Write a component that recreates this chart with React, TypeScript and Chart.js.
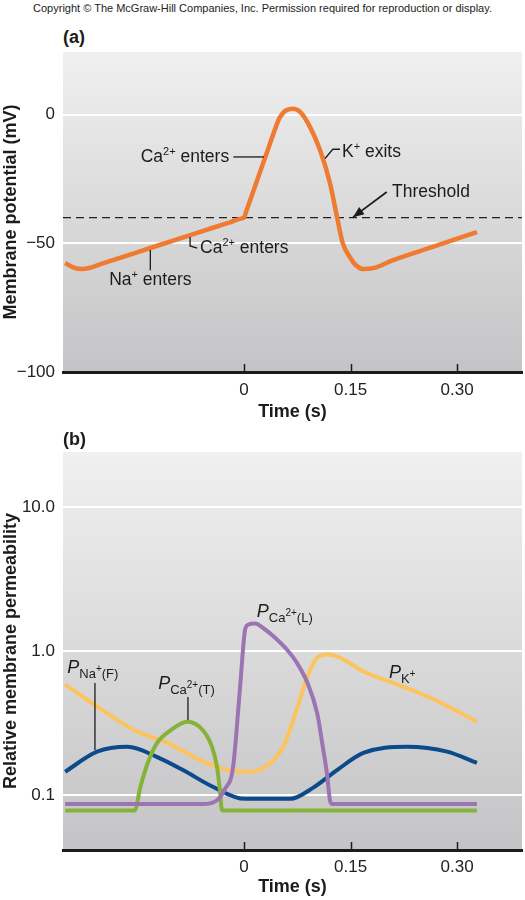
import React, { useEffect, useRef } from "react";
import { Chart, registerables } from "chart.js";

Chart.register(...registerables);

const FONT = '"Liberation Sans", Arial, Helvetica, sans-serif';
const INK = "#1c1c1c";

// ---------------- shared time axis ----------------
const timeMin = -0.255;
const timeMax = 0.3915;
const timeTickValues = [0, 0.15, 0.3];
const timeTickLabels = ["0", "0.15", "0.30"];

// ---------------- panel (a): membrane potential ----------------
const vmTime = [-0.252, -0.24, -0.228, -0.216, -0.2, -0.132, -0.066, -0.02, -0.003, 0, 0.003, 0.015, 0.03, 0.045, 0.05, 0.058, 0.068, 0.079, 0.093, 0.107, 0.121, 0.131, 0.139, 0.149, 0.158, 0.168, 0.185, 0.21, 0.27, 0.328];
const vmValue = [-57.6, -59.4, -60, -59.4, -57.9, -51.8, -45.9, -41.8, -40.27, -40, -37.6, -28.2, -16.4, -4.6, -1.2, 1.5, 2.3, 1.1, -4.8, -13.7, -26.5, -39.8, -49.9, -55.3, -58.6, -60, -59.4, -56.5, -51, -45.6];
const thresholdValue = -40;
const vmMin = -100;
const vmMax = 24.4;
const vmTickValues = [-100, -50, 0];
const vmTickLabels = ["\u2212100", "\u221250", "0"];

// ---------------- panel (b): relative permeability ----------------
const kTime = [-0.252, -0.203, -0.156, -0.108, -0.062, -0.03, 0.008, 0.027, 0.055, 0.074, 0.089, 0.103, 0.117, 0.135, 0.168, 0.206, 0.262, 0.328];
const kValue = [0.585, 0.4, 0.284, 0.23, 0.175, 0.152, 0.145, 0.154, 0.216, 0.39, 0.66, 0.9, 0.946, 0.9, 0.72, 0.61, 0.474, 0.323];

const naTime = [-0.252, -0.207, -0.164, -0.123, -0.086, -0.044, 0.001, 0.065, 0.097, 0.131, 0.168, 0.229, 0.286, 0.328];
const naValue = [0.145, 0.2, 0.216, 0.184, 0.149, 0.114, 0.094, 0.094, 0.112, 0.149, 0.196, 0.216, 0.2, 0.167];

const caTTime = [-0.252, -0.154, -0.146, -0.135, -0.1225, -0.104, -0.08, -0.058, -0.045, -0.038, -0.034, -0.031, 0.328];
const caTValue = [0.078, 0.078, 0.114, 0.17, 0.23, 0.28, 0.323, 0.282, 0.215, 0.156, 0.108, 0.078, 0.078];

const caLTime = [-0.252, -0.058, -0.038, -0.027, -0.0155, -0.0056, 0.0014, 0.0056, 0.0155, 0.0268, 0.041, 0.0606, 0.0746, 0.09, 0.103, 0.111, 0.117, 0.121, 0.124, 0.328];
const caLValue = [0.0866, 0.0866, 0.092, 0.11, 0.156, 0.56, 1.4, 1.52, 1.55, 1.445, 1.27, 1.02, 0.826, 0.59, 0.37, 0.215, 0.138, 0.092, 0.0866, 0.0866];

const permMin = 0.0415;
const permMax = 24.1;
const permTickValues = [0.1, 1, 10];
const permTickLabels = ["0.1", "1.0", "10.0"];

// ---------------- colours ----------------
const ORANGE = "#ee7b30";
const YELLOW = "#fdc35d";
const BLUE = "#0b4a8b";
const GREEN = "#86b23a";
const PURPLE = "#9c74b4";

// ---------------- rich text helpers ----------------
type Seg = { s: string; size: number; dy: number; italic?: boolean };
const txt = (s: string): Seg => ({ s, size: 17.5, dy: 0 });
const sup = (s: string): Seg => ({ s, size: 11, dy: -7 });
const P: Seg = { s: "P", size: 18, dy: 0, italic: true };
const sub = (s: string): Seg => ({ s, size: 13, dy: 5 });
const subSup = (s: string): Seg => ({ s, size: 10, dy: -1 });

const segFont = (g: Seg) => `${g.italic ? "italic " : ""}${g.size}px ${FONT}`;

function drawRich(ctx: CanvasRenderingContext2D, x: number, y: number, segs: Seg[], align: string) {
  let w = 0;
  segs.forEach((g) => {
    ctx.font = segFont(g);
    w += ctx.measureText(g.s).width;
  });
  let cx = align === "left" ? x : align === "right" ? x - w : x - w / 2;
  ctx.textAlign = "left";
  ctx.textBaseline = "alphabetic";
  segs.forEach((g) => {
    ctx.font = segFont(g);
    ctx.fillText(g.s, cx, y + g.dy);
    cx += ctx.measureText(g.s).width;
  });
}

type Label = { segs: Seg[]; x: number; y: number; align: string };
type Leader = { pts: number[][]; arrow?: boolean; width?: number };

function makeAnnotations(id: string, labels: Label[], leaders: Leader[]) {
  return {
    id,
    afterDatasetsDraw(chart: any) {
      const { ctx, scales } = chart;
      const xs = scales.x;
      const ys = scales.y;
      ctx.save();
      ctx.strokeStyle = INK;
      ctx.fillStyle = INK;
      leaders.forEach((l) => {
        const p = l.pts.map(([t, v]) => [xs.getPixelForValue(t), ys.getPixelForValue(v)]);
        ctx.lineWidth = l.width || 1.3;
        ctx.beginPath();
        p.forEach(([px, py], i) => (i ? ctx.lineTo(px, py) : ctx.moveTo(px, py)));
        ctx.stroke();
        if (l.arrow) {
          const [x1, y1] = p[p.length - 2];
          const [x2, y2] = p[p.length - 1];
          const a = Math.atan2(y2 - y1, x2 - x1);
          const L = 11;
          const W = 4.5;
          ctx.beginPath();
          ctx.moveTo(x2, y2);
          ctx.lineTo(x2 - L * Math.cos(a) + W * Math.sin(a), y2 - L * Math.sin(a) - W * Math.cos(a));
          ctx.lineTo(x2 - L * Math.cos(a) - W * Math.sin(a), y2 - L * Math.sin(a) + W * Math.cos(a));
          ctx.closePath();
          ctx.fill();
        }
      });
      labels.forEach((lb) => drawRich(ctx, xs.getPixelForValue(lb.x), ys.getPixelForValue(lb.y), lb.segs, lb.align));
      ctx.restore();
    },
  };
}

const backgroundPlugin = {
  id: "panelBackground",
  beforeDraw(chart: any) {
    const { ctx, chartArea: a } = chart;
    const g = ctx.createLinearGradient(0, a.top, 0, a.bottom);
    g.addColorStop(0, "#f0f0f0");
    g.addColorStop(1, "#c4c4c6");
    ctx.save();
    ctx.fillStyle = g;
    ctx.fillRect(a.left, a.top, a.right - a.left, a.bottom - a.top);
    ctx.restore();
  },
};

const innerTicksPlugin = {
  id: "innerTicks",
  afterDraw(chart: any) {
    const { ctx, chartArea } = chart;
    const xs = chart.scales.x;
    ctx.save();
    ctx.strokeStyle = INK;
    ctx.lineWidth = 1.5;
    xs.ticks.forEach((t: any) => {
      const px = Math.round(xs.getPixelForValue(t.value)) + 0.5;
      ctx.beginPath();
      ctx.moveTo(px, chartArea.bottom - 1);
      ctx.lineTo(px, chartArea.bottom - 8);
      ctx.stroke();
    });
    ctx.restore();
  },
};

// ---------------- annotations ----------------
const caEnters = [txt("Ca"), sup("2+"), txt(" enters")];
const annotationsA = makeAnnotations(
  "annA",
  [
    { segs: caEnters, x: -0.021, y: -18.4, align: "right" },
    { segs: [txt("K"), sup("+"), txt(" exits")], x: 0.138, y: -16.4, align: "left" },
    { segs: [txt("Threshold")], x: 0.2085, y: -32, align: "left" },
    { segs: caEnters, x: -0.062, y: -53.8, align: "left" },
    { segs: [txt("Na"), sup("+"), txt(" enters")], x: -0.132, y: -66.2, align: "center" },
  ],
  [
    { pts: [[-0.015, -16.4], [0.028, -16.4]] },
    { pts: [[0.114, -17.0], [0.125, -13.4], [0.135, -13.4]] },
    { pts: [[-0.076, -47.5], [-0.076, -51], [-0.066, -51.8]] },
    { pts: [[-0.132, -52.6], [-0.132, -60.4]] },
    { pts: [[0.201, -30.0], [0.1535, -39.8]], arrow: true, width: 1.8 },
  ]
);

const annotationsB = makeAnnotations(
  "annB",
  [
    { segs: [P, sub("Na"), subSup("+"), sub("(F)")], x: -0.249, y: 0.703, align: "left" },
    { segs: [P, sub("Ca"), subSup("2+"), sub("(T)")], x: -0.121, y: 0.544, align: "left" },
    { segs: [P, sub("Ca"), subSup("2+"), sub("(L)")], x: 0.018, y: 1.72, align: "left" },
    { segs: [P, sub("K"), subSup("+")], x: 0.204, y: 0.65, align: "left" },
  ],
  [
    { pts: [[-0.21, 0.6], [-0.21, 0.205]] },
    { pts: [[-0.079, 0.48], [-0.079, 0.332]] },
  ]
);

// ---------------- scale builders ----------------
const pick = (vals: number[], labels: string[], v: number) => {
  const i = vals.findIndex((x) => Math.abs(x - v) < 1e-9);
  return i >= 0 ? labels[i] : "";
};

function timeAxis(height: number, tickPad: number, titlePad: number) {
  return {
    type: "linear",
    min: timeMin,
    max: timeMax,
    afterBuildTicks: (s: any) => {
      s.ticks = timeTickValues.map((value) => ({ value }));
    },
    afterFit: (s: any) => {
      s.height = height;
    },
    grid: { display: false, drawTicks: false },
    border: { display: true, color: INK, width: 3 },
    ticks: {
      autoSkip: false,
      maxRotation: 0,
      padding: tickPad,
      color: "#222",
      font: { family: FONT, size: 17 },
      callback: (v: number) => pick(timeTickValues, timeTickLabels, v),
    },
    title: {
      display: true,
      text: "Time (s)",
      color: INK,
      font: { family: FONT, size: 18, weight: "bold" },
      padding: { top: 0, bottom: titlePad },
    },
  };
}

const series = (t: number[], v: number[]) => t.map((x, i) => ({ x, y: v[i] }));

const lineStyle = (color: string, width = 4) => ({
  borderColor: color,
  backgroundColor: color,
  borderWidth: width,
  pointRadius: 0,
  fill: false,
  cubicInterpolationMode: "monotone",
  borderCapStyle: "butt",
  borderJoinStyle: "round",
});

export default function App() {
  const refA = useRef<HTMLCanvasElement>(null);
  const refB = useRef<HTMLCanvasElement>(null);

  useEffect(() => {
    const chartA = new Chart(refA.current as HTMLCanvasElement, {
      type: "line",
      data: {
        datasets: [
          { label: "Membrane potential", data: series(vmTime, vmValue), ...lineStyle(ORANGE, 4.5) } as any,
          {
            label: "Threshold",
            data: [
              { x: timeMin, y: thresholdValue },
              { x: timeMax, y: thresholdValue },
            ],
            borderColor: "#222",
            borderWidth: 1.2,
            borderDash: [8, 5],
            pointRadius: 0,
            fill: false,
          },
        ],
      },
      options: {
        responsive: false,
        maintainAspectRatio: false,
        animation: false,
        devicePixelRatio: 1,
        layout: { padding: { top: 52, right: 3, left: 0, bottom: 0 } },
        plugins: { legend: { display: false }, tooltip: { enabled: false } },
        scales: {
          x: timeAxis(58, 8, 7) as any,
          y: {
            type: "linear",
            min: vmMin,
            max: vmMax,
            afterBuildTicks: (s: any) => {
              s.ticks = vmTickValues.map((value) => ({ value }));
            },
            afterFit: (s: any) => {
              s.width = 63;
            },
            grid: {
              drawTicks: false,
              lineWidth: 2,
              color: (c: any) => (c.tick && c.tick.value === vmMin ? "rgba(0,0,0,0)" : "#ffffff"),
            },
            border: { display: false },
            ticks: {
              padding: 8,
              color: "#222",
              font: { family: FONT, size: 17 },
              callback: (v: number) => pick(vmTickValues, vmTickLabels, v),
            },
            title: {
              display: true,
              text: "Membrane potential (mV)",
              color: INK,
              font: { family: FONT, size: 18, weight: "bold" },
              padding: { top: 0, bottom: 0 },
            },
          },
        },
      },
      plugins: [backgroundPlugin, innerTicksPlugin, annotationsA],
    } as any);

    const chartB = new Chart(refB.current as HTMLCanvasElement, {
      type: "line",
      data: {
        datasets: [
          { label: "PCa2+(L)", data: series(caLTime, caLValue), ...lineStyle(PURPLE) } as any,
          { label: "PCa2+(T)", data: series(caTTime, caTValue), ...lineStyle(GREEN) } as any,
          { label: "PNa+(F)", data: series(naTime, naValue), ...lineStyle(BLUE) } as any,
          { label: "PK+", data: series(kTime, kValue), ...lineStyle(YELLOW) } as any,
        ],
      },
      options: {
        responsive: false,
        maintainAspectRatio: false,
        animation: false,
        devicePixelRatio: 1,
        layout: { padding: { top: 22, right: 3, left: 0, bottom: 0 } },
        plugins: { legend: { display: false }, tooltip: { enabled: false } },
        scales: {
          x: timeAxis(50, 7, 2) as any,
          y: {
            type: "logarithmic",
            min: permMin,
            max: permMax,
            afterBuildTicks: (s: any) => {
              s.ticks = permTickValues.map((value) => ({ value }));
            },
            afterFit: (s: any) => {
              s.width = 63;
            },
            grid: { drawTicks: false, lineWidth: 2, color: "#ffffff" },
            border: { display: false },
            ticks: {
              padding: 8,
              color: "#222",
              font: { family: FONT, size: 17 },
              callback: (v: number) => pick(permTickValues, permTickLabels, v),
            },
            title: {
              display: true,
              text: "Relative membrane permeability",
              color: INK,
              font: { family: FONT, size: 18, weight: "bold" },
              padding: { top: 0, bottom: 0 },
            },
          },
        },
      },
      plugins: [backgroundPlugin, innerTicksPlugin, annotationsB],
    } as any);

    return () => {
      chartA.destroy();
      chartB.destroy();
    };
  }, []);

  return (
    <div style={{ position: "absolute", left: 0, top: 0, width: 525, height: 900, background: "#ffffff", fontFamily: FONT, overflow: "hidden" }}>
      <div style={{ position: "absolute", left: 0, top: 1, width: 525, textAlign: "center", fontSize: 11, lineHeight: "14px", color: "#222" }}>
        Copyright © The McGraw-Hill Companies, Inc. Permission required for reproduction or display.
      </div>
      <div style={{ position: "absolute", left: 63, top: 26, fontSize: 18, lineHeight: "22px", fontWeight: "bold", color: INK }}>(a)</div>
      <canvas ref={refA} width={525} height={430} style={{ position: "absolute", left: 0, top: 0, width: 525, height: 430 }} />
      <div style={{ position: "absolute", left: 63, top: 428, fontSize: 18, lineHeight: "22px", fontWeight: "bold", color: INK }}>(b)</div>
      <canvas ref={refB} width={525} height={470} style={{ position: "absolute", left: 0, top: 430, width: 525, height: 470 }} />
    </div>
  );
}
